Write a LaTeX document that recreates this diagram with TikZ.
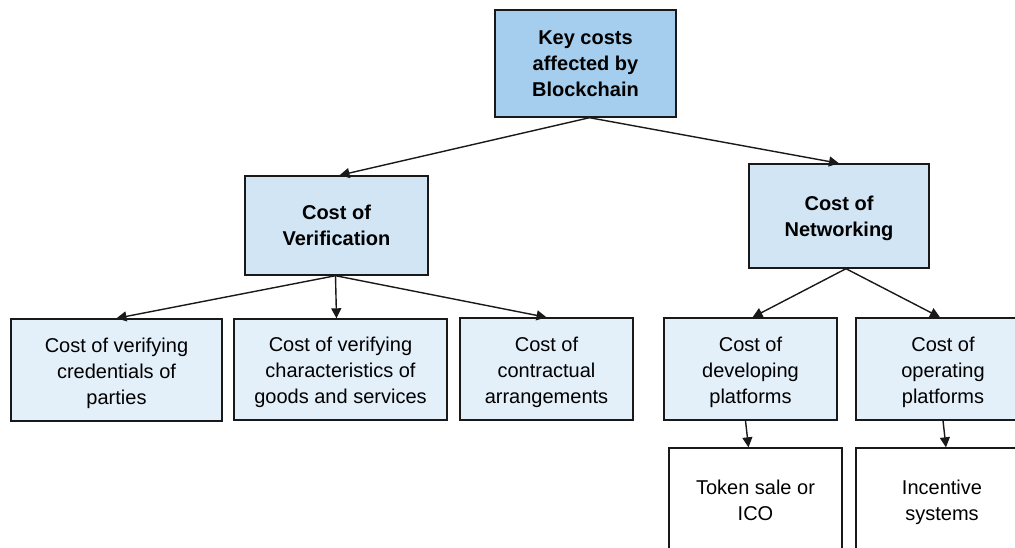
\documentclass[tikz,border=0pt]{standalone}
\usepackage{fontspec}
\setmainfont{Liberation Sans}
\usetikzlibrary{arrows.meta,calc}
\definecolor{topblue}{HTML}{A5CEEE}
\definecolor{midblue}{HTML}{D2E5F5}
\definecolor{leafblue}{HTML}{E3EFF9}
\begin{document}
\begin{tikzpicture}[x=1pt,y=-1pt,
  box/.style={draw=black!90,line width=1.4pt,inner sep=0pt,align=center,
    font=\fontsize{20}{26}\selectfont},
  txt/.style={font=\fontsize{20}{26}\selectfont,align=center,inner sep=0pt},
  topbox/.style={box,fill=topblue,font=\fontsize{20}{26}\selectfont\bfseries},
  midbox/.style={box,fill=midblue,font=\fontsize{20}{26}\selectfont\bfseries},
  leafbox/.style={box,fill=leafblue},
  plainbox/.style={box,fill=white},
  conn/.style={line width=1.4pt,draw=black!90,-{Triangle[length=10pt,width=10pt]}}]
\useasboundingbox (0,0) rectangle (1015,547);
\clip (0,0) rectangle (1015,547);
\fill[white] (0,0) rectangle (1015,547);
\node[topbox,minimum width=181pt,minimum height=107pt] (top) at (585.5,63.5) {Key costs\\affected by\\Blockchain};
\node[midbox,minimum width=183pt,minimum height=99pt] (ver) at (336.5,225.5) {Cost of\\Verification};
\node[midbox,minimum width=180pt,minimum height=104pt,
  label={[txt,font=\fontsize{20}{26}\selectfont\bfseries,yshift=-2pt]center:Cost of\\Networking}] (net) at (839,216) {};
\node[leafbox,minimum width=211pt,minimum height=102pt,
  label={[txt,yshift=-3pt]center:Cost of verifying\\credentials of\\parties}] (l1) at (116.5,370) {};
\node[leafbox,minimum width=213pt,minimum height=101pt,
  label={[txt,yshift=-3pt]center:Cost of verifying\\characteristics of\\goods and services}] (l2) at (340.5,369.5) {};
\node[leafbox,minimum width=173pt,minimum height=102pt,
  label={[txt,yshift=-3pt]center:Cost of\\contractual\\arrangements}] (l3) at (546.5,369) {};
\node[leafbox,minimum width=173pt,minimum height=102pt,
  label={[txt,yshift=-3pt]center:Cost of\\developing\\platforms}] (l4) at (750.5,369) {};
\node[leafbox,minimum width=174pt,minimum height=102pt,
  label={[txt,yshift=-3pt]center:Cost of\\operating\\platforms}] (l5) at (943,369) {};
\node[plainbox,minimum width=173pt,minimum height=124pt] (b1) at (755.5,510) {};
\node[plainbox,minimum width=172pt,minimum height=124pt] (b2) at (942,510) {};
\node[txt] (t1) at (755.5,500) {Token sale or\\ICO};
\node[txt] (t2) at (942,502) {Incentive\\systems};
\draw[conn] ($(top.south)+(4,0)$) -- ($(ver.north)+(3,0)$);
\draw[conn] ($(top.south)+(4,0)$) -- (net.north);
\draw[conn] ($(ver.south)+(-1,0)$) -- (l1.north);
\draw[conn] ($(ver.south)+(-1,0)$) -- ($(l2.north)+(-4,0)$);
\draw[conn] ($(ver.south)+(-1,0)$) -- (l3.north);
\draw[conn] ($(net.south)+(7,0)$) -- ($(l4.north)+(2,0)$);
\draw[conn] ($(net.south)+(7,0)$) -- ($(l5.north)+(-3,0)$);
\draw[conn] ($(l4.south)+(-5,0)$) -- ($(b1.north)+(-7,0)$);
\draw[conn] ($(l5.south)+(0,0)$) -- ($(b2.north)+(4,0)$);
\end{tikzpicture}
\end{document}
